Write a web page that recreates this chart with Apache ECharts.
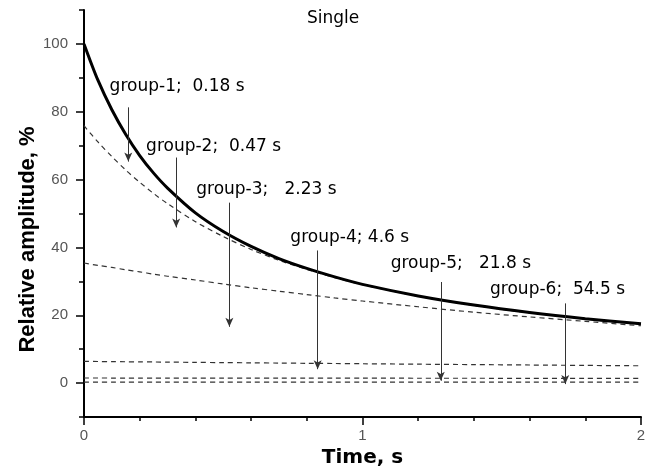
<!DOCTYPE html>
<html>
<head>
<meta charset="utf-8">
<script src="https://cdn.jsdelivr.net/npm/echarts@6/dist/echarts.min.js"></script>
<style>
  html, body { margin: 0; padding: 0; background: #fff; }
  #main { width: 654px; height: 473px; }
</style>
</head>
<body>
<div id="main"></div>
<script>
  // time points (s) and curve values (%)
  var timeS = [0, 0.05, 0.1, 0.15, 0.2, 0.25, 0.3, 0.4, 0.5, 0.6, 0.7, 0.8, 0.9, 1.0, 1.2, 1.4, 1.6, 1.8, 2.0];
  var sumAll = [100, 89.3, 80.6, 73.3, 67.1, 61.9, 57.5, 50.2, 44.7, 40.3, 36.7, 33.8, 31.3, 29.1, 25.7, 23.0, 20.8, 19.0, 17.5];
  var from2 = [75.9, 71.1, 66.8, 62.8, 59.2, 55.9, 52.9, 47.6, 43.2, 39.4, 36.2, 33.5, 31.1, 29.0, 25.6, 22.9, 20.7, 18.9, 17.4];
  var from3 = [35.4, 34.7, 34.1, 33.4, 32.8, 32.1, 31.5, 30.4, 29.2, 28.1, 27.1, 26.1, 25.1, 24.2, 22.5, 20.9, 19.5, 18.2, 16.9];
  var from4 = [6.4, 6.36, 6.33, 6.29, 6.25, 6.22, 6.18, 6.11, 6.04, 5.97, 5.9, 5.83, 5.77, 5.7, 5.57, 5.45, 5.33, 5.21, 5.1];
  var from5 = [1.5, 1.5, 1.49, 1.49, 1.49, 1.49, 1.48, 1.48, 1.47, 1.47, 1.46, 1.46, 1.45, 1.45, 1.43, 1.42, 1.41, 1.39, 1.38];
  var from6 = [0.3, 0.3, 0.3, 0.3, 0.3, 0.3, 0.3, 0.3, 0.3, 0.3, 0.3, 0.3, 0.3, 0.3, 0.3, 0.29, 0.29, 0.29, 0.29];

  // annotations
  var groupText = ['group-1;  0.18 s', 'group-2;  0.47 s', 'group-3;   2.23 s', 'group-4; 4.6 s', 'group-5;   21.8 s', 'group-6;  54.5 s'];
  var textX = [0.092, 0.223, 0.403, 0.741, 1.101, 1.458];
  var textY = [87.5, 69.7, 57.0, 42.9, 35.2, 27.6];
  var arrowX = [0.159, 0.331, 0.522, 0.839, 1.281, 1.728];
  var arrowTop = [81.3, 66.5, 53.2, 39.1, 29.8, 23.5];
  var arrowTip = [65.3, 45.9, 16.6, 4.1, 0.7, -0.3];

  function pairs(ys) {
    return timeS.map(function (t, i) { return [t, ys[i]]; });
  }

  var myChart = echarts.init(document.getElementById('main'));

  function dashed(ys) {
    return {
      type: 'line',
      data: pairs(ys),
      smooth: 0.3,
      showSymbol: false,
      lineStyle: { color: '#333', width: 1.2, type: [5, 4] },
      z: 2
    };
  }

  var labelData = groupText.map(function (s, i) { return [textX[i], textY[i], s]; });
  var arrows = arrowX.map(function (x, i) {
    return [{ coord: [x, arrowTop[i]] }, { coord: [x, arrowTip[i]] }];
  });

  var option = {
    animation: false,
    title: {
      text: 'Single',
      left: 302,
      top: 5,
      textStyle: { fontFamily: 'DejaVu Sans', fontSize: 17, fontWeight: 'normal', color: '#000' }
    },
    grid: { left: 84, right: 13, top: 10, bottom: 55 },
    xAxis: {
      type: 'value',
      position: 'bottom',
      min: 0,
      max: 2,
      interval: 1,
      name: 'Time, s',
      nameLocation: 'middle',
      nameGap: 31,
      nameTextStyle: { fontFamily: 'DejaVu Sans', fontWeight: 'bold', fontSize: 20, color: '#000' },
      axisLine: { show: true, onZero: false, lineStyle: { color: '#000', width: 2 } },
      axisTick: { show: true, inside: false, length: 8, lineStyle: { color: '#000', width: 1.5 } },
      minorTick: { show: true, splitNumber: 5, length: 4, lineStyle: { color: '#000', width: 1.5 } },
      axisLabel: { color: '#555', fontFamily: 'Liberation Sans', fontSize: 15, margin: 11 },
      splitLine: { show: false }
    },
    yAxis: [
      {
        type: 'value',
        min: -10,
        max: 110,
        interval: 20,
        name: 'Relative amplitude, %',
        nameLocation: 'middle',
        nameGap: 45,
        nameTextStyle: {
          fontFamily: 'Liberation Sans', fontWeight: 'bold', fontSize: 22, color: '#000',
          padding: [0, 52, 0, 0]
        },
        axisLine: { show: true, onZero: false, lineStyle: { color: '#000', width: 2 } },
        axisTick: { length: 5, lineStyle: { color: '#000', width: 1.5 } },
        minorTick: { show: true, splitNumber: 2, length: 8, lineStyle: { color: '#000', width: 1.5 } },
        axisLabel: { show: false },
        splitLine: { show: false }
      },
      {
        type: 'value',
        position: 'left',
        min: -10,
        max: 110,
        interval: 10,
        axisLine: { show: false, onZero: false },
        axisTick: { show: false },
        splitLine: { show: false },
        axisLabel: {
          color: '#555', fontFamily: 'Liberation Sans', fontSize: 15, margin: 16,
          formatter: function (v) { return (v >= 0 && v <= 100 && v % 20 === 0) ? String(v) : ''; }
        }
      }
    ],
    series: [
      dashed(from2),
      dashed(from3),
      dashed(from4),
      dashed(from5),
      dashed(from6),
      {
        type: 'line',
        data: pairs(sumAll),
        smooth: 0.3,
        showSymbol: false,
        lineStyle: { color: '#000', width: 3 },
        z: 3
      },
      {
        type: 'scatter',
        data: labelData,
        symbolSize: 0,
        silent: true,
        itemStyle: { opacity: 1 },
        label: {
          show: true,
          position: 'right',
          distance: 0,
          formatter: function (p) { return p.data[2]; },
          fontFamily: 'DejaVu Sans',
          fontSize: 17,
          color: '#000',
          opacity: 1
        },
        markLine: {
          silent: true,
          symbol: ['none', 'arrow'],
          symbolSize: [6, 9],
          label: { show: false },
          lineStyle: { color: '#333', width: 1, type: 'solid' },
          data: arrows
        },
        z: 4
      }
    ]
  };

  myChart.setOption(option);
</script>
</body>
</html>
